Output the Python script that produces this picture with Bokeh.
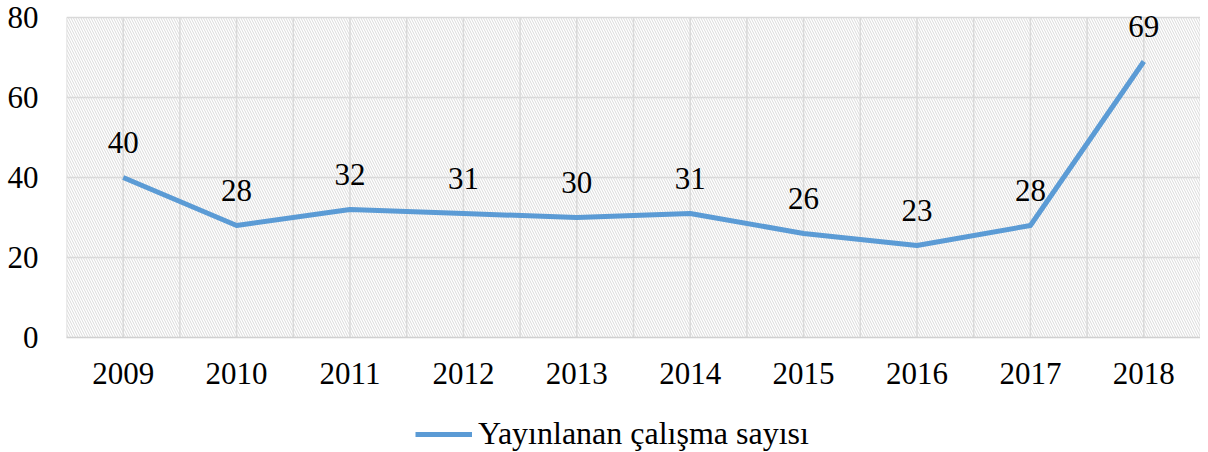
from bokeh.plotting import figure
from bokeh.layouts import column
from bokeh.models import ColumnDataSource, FixedTicker, Legend, LegendItem, Range1d
from bokeh.core.properties import value
from bokeh.embed import file_html
from bokeh.resources import INLINE

years = [2009, 2010, 2011, 2012, 2013, 2014, 2015, 2016, 2017, 2018]
counts = [40, 28, 32, 31, 30, 31, 26, 23, 28, 69]
y_ticks = [0, 20, 40, 60, 80]
series_name = "Yayınlanan çalışma sayısı"

FONT = "Liberation Serif"
BLUE = "#5B9BD5"
GRID = "#d9d9d9"

x0, x1 = years[0] - 0.5, years[-1] + 0.5
y0, y1 = y_ticks[0], y_ticks[-1]
headroom = 4  # extra range above the top tick so the top data label is not clipped

p = figure(width=1200, height=401, output_backend="svg", toolbar_location=None,
           x_range=Range1d(x0, x1), y_range=Range1d(y0, y1 + headroom),
           min_border_left=66, min_border_right=0, min_border_top=1, min_border_bottom=64)
p.outline_line_color = None
p.background_fill_color = "white"
p.border_fill_color = "white"

# hatched plot area
p.quad(left=[x0], right=[x1], bottom=[y0], top=[y1], fill_alpha=0, line_color=None,
       hatch_pattern="\\", hatch_color="#dadada", hatch_scale=5, hatch_weight=1)

# grid lines (vertical ones at category centres and boundaries, limited to the plot area)
half_ticks = [x0 + 0.5 * i for i in range(2 * len(years) + 1)]
p.segment(x0=half_ticks, y0=[y0] * len(half_ticks), x1=half_ticks, y1=[y1] * len(half_ticks),
          line_color=GRID, line_width=1.5)
p.xgrid.visible = False
p.ygrid.ticker = FixedTicker(ticks=y_ticks)
p.ygrid.grid_line_color = GRID
p.ygrid.grid_line_width = 1.5

# axes
p.xaxis.ticker = FixedTicker(ticks=years)
p.yaxis.ticker = FixedTicker(ticks=y_ticks)
for ax in (p.xaxis, p.yaxis):
    ax.axis_line_color = None
    ax.major_tick_line_color = None
    ax.minor_tick_line_color = None
    ax.major_tick_out = 0
    ax.major_tick_in = 0
    ax.minor_tick_out = 0
    ax.major_label_text_font = FONT
    ax.major_label_text_font_size = "31px"
    ax.major_label_text_color = "black"
p.xaxis.axis_line_color = "#d0d0d0"
p.xaxis.axis_line_width = 1.5
p.xaxis.major_label_standoff = 25
p.yaxis.major_label_standoff = 28

src = ColumnDataSource(dict(x=years, y=counts, label=[str(c) for c in counts]))
line = p.line("x", "y", source=src, line_color=BLUE, line_width=5, line_join="round")
p.text("x", "y", text="label", source=src, text_font=value(FONT), text_font_size="31px",
       text_align="center", text_baseline="middle", y_offset=-35, text_color="black")

# legend strip below the chart (its key line uses the same data, outside this strip's view)
lg = figure(width=1200, height=51, output_backend="svg", toolbar_location=None,
            x_range=Range1d(0, 1), y_range=Range1d(0, 1),
            x_axis_type=None, y_axis_type=None,
            min_border_left=66, min_border_right=0, min_border_top=0, min_border_bottom=0)
lg.outline_line_color = None
lg.xgrid.visible = False
lg.ygrid.visible = False
key = lg.line("x", "y", source=src, line_color=BLUE, line_width=5)
legend = Legend(items=[LegendItem(label=series_name, renderers=[key])],
                orientation="horizontal", location=(349, 0),
                label_text_font=FONT, label_text_font_size="32px", label_text_color="black",
                glyph_width=57, glyph_height=28, label_standoff=6,
                padding=0, margin=0, spacing=0,
                border_line_color=None, background_fill_alpha=0)
lg.add_layout(legend, "center")

layout = column(p, lg, spacing=0)
open("out.html", "w").write(file_html(layout, INLINE))
